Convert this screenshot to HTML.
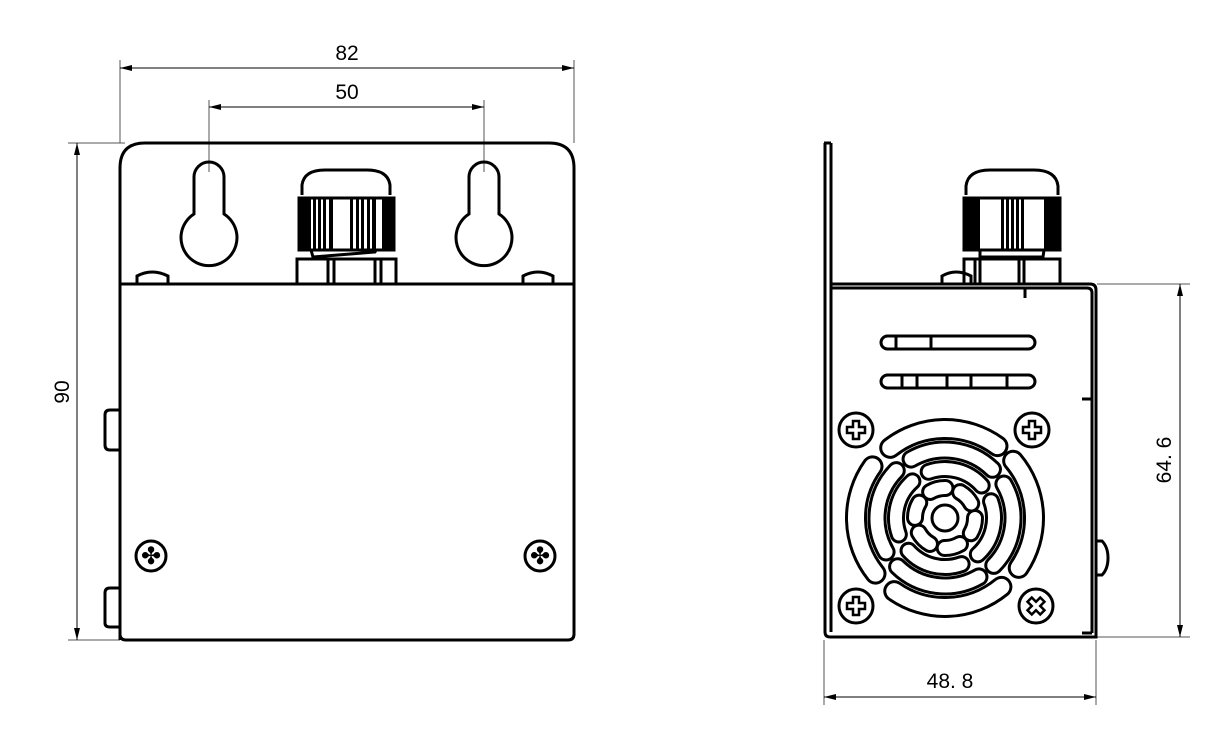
<!DOCTYPE html>
<html><head><meta charset="utf-8"><style>
html,body{margin:0;padding:0;background:#fff;}
svg{display:block;}
text{font-family:"Liberation Sans",sans-serif;font-size:21px;fill:#000;}
</style></head><body>
<svg width="1208" height="737" viewBox="0 0 1208 737" xmlns="http://www.w3.org/2000/svg">
<defs>
<marker id="ar" viewBox="0 0 12 6" refX="12" refY="3" markerWidth="12" markerHeight="6" orient="auto-start-reverse" markerUnits="userSpaceOnUse"><path d="M0,0 L12,3 L0,6 z" fill="#000"/></marker>
</defs>
<g stroke="#555" stroke-width="1" fill="none">
<line x1="120" y1="60" x2="120" y2="143"/><line x1="574" y1="60" x2="574" y2="143"/>
<line x1="209" y1="100" x2="209" y2="172"/><line x1="484" y1="100" x2="484" y2="172"/>
<line x1="68" y1="143" x2="125" y2="143"/><line x1="68" y1="640" x2="120" y2="640"/>
</g>
<g stroke="#000" stroke-width="1" fill="none">
<line x1="120" y1="68" x2="574" y2="68" marker-start="url(#ar)" marker-end="url(#ar)"/>
<line x1="209" y1="107" x2="484" y2="107" marker-start="url(#ar)" marker-end="url(#ar)"/>
<line x1="77" y1="143" x2="77" y2="640" marker-start="url(#ar)" marker-end="url(#ar)"/>
</g>
<text x="347" y="60" text-anchor="middle">82</text>
<text x="347" y="99" text-anchor="middle">50</text>
<text transform="translate(69,392) rotate(-90)" text-anchor="middle">90</text>

<g stroke="#000" stroke-width="3" fill="none">
<path d="M120,640 L120,168 Q120,143 145,143 L549,143 Q574,143 574,168 L574,634 Q574,640 568,640 L126,640 Q120,640 120,634"/>
<line x1="120" y1="284" x2="574" y2="284"/>
<path d="M120,410 L110,410 Q105,410 105,415 L105,445 Q105,450 110,450 L120,450"/>
<path d="M120,588 L110,588 Q105,588 105,593 L105,623 Q105,627 110,627 L120,627"/>
<path d="M194,214 L194,177 A15,15 0 0 1 224,177 L224,214 A28,28 0 1 1 194,214 Z"/>
<path d="M469,214 L469,177 A15,15 0 0 1 499,177 L499,214 A28,28 0 1 1 469,214 Z"/>
<path d="M137,284 L137,276 Q152,268 168,276 L168,284"/>
<path d="M523,284 L523,276 Q538,268 553,276 L553,284"/>
<path d="M302,195 L302,185 Q304,170 325,170 L367,170 Q388,170 390,185 L390,195"/>
<rect x="299" y="198" width="95" height="52"/>
<rect x="297" y="259" width="99" height="25"/>
<line x1="328" y1="259" x2="328" y2="284"/><line x1="334" y1="259" x2="334" y2="284"/>
<line x1="375" y1="259" x2="375" y2="284"/><line x1="381" y1="259" x2="381" y2="284"/>
<path d="M311,250 L313,257 L375,252 L376,250"/>
</g>
<g fill="#000">
<rect x="299" y="198" width="12" height="52"/><rect x="382" y="198" width="12" height="52"/>
<rect x="313" y="198" width="3" height="52"/><rect x="318" y="198" width="3" height="52"/><rect x="323" y="198" width="3" height="52"/><rect x="329" y="198" width="4" height="52"/>
<rect x="350" y="198" width="3" height="52"/><rect x="356" y="198" width="3" height="52"/><rect x="361" y="198" width="3" height="52"/><rect x="367" y="198" width="3" height="52"/><rect x="372" y="198" width="4" height="52"/>
</g>
<g stroke="#000" stroke-width="3" fill="none">
<circle cx="151" cy="556" r="15"/><circle cx="540" cy="556" r="15"/>
</g>
<g fill="#000"><text x="151" y="564" text-anchor="middle" style="font-size:24px">✤</text><text x="540" y="564" text-anchor="middle" style="font-size:24px">✤</text></g>

<g stroke="#555" stroke-width="1" fill="none">
<line x1="1097" y1="284" x2="1190" y2="284"/><line x1="1097" y1="637" x2="1190" y2="637"/>
<line x1="824" y1="640" x2="824" y2="705"/><line x1="1096" y1="640" x2="1096" y2="705"/>
</g>
<g stroke="#000" stroke-width="1" fill="none">
<line x1="1180" y1="284" x2="1180" y2="637" marker-start="url(#ar)" marker-end="url(#ar)"/>
<line x1="824" y1="697" x2="1096" y2="697" marker-start="url(#ar)" marker-end="url(#ar)"/>
</g>
<text x="950" y="688" text-anchor="middle">48. 8</text>
<text transform="translate(1171,460) rotate(-90)" text-anchor="middle">64. 6</text>

<g stroke="#000" stroke-width="3" fill="none">
<path d="M825,143 L825,632 Q825,637 830,637 L1096,637 L1096,290 Q1096,284 1090,284 L831,284"/>
<path d="M831,143 L831,632"/>
<path d="M831,288 L1087,288 Q1092,288 1092,293 L1092,633"/>
<line x1="824" y1="143" x2="831" y2="143"/>
<line x1="1025" y1="288" x2="1025" y2="298"/>
<line x1="1082" y1="399" x2="1092" y2="399"/>
<line x1="1082" y1="633" x2="1092" y2="633"/>
<path d="M1096,541 L1102,541 Q1108,547 1108,558 Q1108,569 1102,575 L1096,575"/>
<path d="M942,284 L942,276 Q956,268 971,276 L971,284"/>
<path d="M966,195 L966,186 Q968,170 990,170 L1034,170 Q1056,170 1058,186 L1058,195"/>
<rect x="964" y="198" width="96" height="52"/>
<rect x="964" y="259" width="96" height="25"/>
<line x1="975" y1="259" x2="975" y2="284"/><line x1="980" y1="259" x2="980" y2="284"/>
<line x1="1019" y1="259" x2="1019" y2="284"/><line x1="1024" y1="259" x2="1024" y2="284"/>
<path d="M980,250 L980,257 L1043,257 L1044,250"/>
<rect x="881" y="336" width="154" height="13" rx="6.5"/>
<line x1="896" y1="336" x2="896" y2="349"/><line x1="931" y1="336" x2="931" y2="349"/>
<rect x="881" y="375" width="154" height="13" rx="6.5"/>
<line x1="902" y1="375" x2="902" y2="388"/><line x1="917" y1="375" x2="917" y2="388"/><line x1="947" y1="375" x2="947" y2="388"/><line x1="971" y1="375" x2="971" y2="388"/><line x1="1007" y1="375" x2="1007" y2="388"/>
</g>
<g fill="#000">
<rect x="964" y="198" width="16" height="52"/><rect x="1044" y="198" width="16" height="52"/>
<rect x="1001" y="198" width="3" height="52"/><rect x="1006" y="198" width="3" height="52"/><rect x="1011" y="198" width="3" height="52"/><rect x="1016" y="198" width="3" height="52"/><rect x="1021" y="198" width="3" height="52"/>
</g>
<g fill="none" stroke-linecap="round">
<g transform="rotate(-40 945 518)">
<circle cx="945" cy="518" r="89" stroke="#000" stroke-width="22" stroke-dasharray="115 25.8"/>
<circle cx="945" cy="518" r="89" stroke="#fff" stroke-width="16" stroke-dasharray="115 25.8"/>
</g>
<g transform="rotate(-30 945 518)">
<circle cx="945" cy="518" r="68" stroke="#000" stroke-width="19" stroke-dasharray="88 18.8"/>
<circle cx="945" cy="518" r="68" stroke="#fff" stroke-width="13" stroke-dasharray="88 18.8"/>
</g>
<g transform="rotate(-20 945 518)">
<circle cx="945" cy="518" r="49" stroke="#000" stroke-width="18" stroke-dasharray="58 19"/>
<circle cx="945" cy="518" r="49" stroke="#fff" stroke-width="12" stroke-dasharray="58 19"/>
</g>
<g>
<circle cx="945" cy="518" r="30" stroke="#000" stroke-width="18" stroke-dasharray="16 15.4"/>
<circle cx="945" cy="518" r="30" stroke="#fff" stroke-width="12" stroke-dasharray="16 15.4"/>
</g>
<circle cx="945" cy="518" r="13" stroke="#000" stroke-width="3"/>
</g>
<g stroke="#000" stroke-width="3" fill="#fff">
<circle cx="856" cy="430" r="17"/><circle cx="1032" cy="430" r="17"/>
<circle cx="856" cy="606" r="17"/><circle cx="1036" cy="606" r="17"/>
</g>
<g stroke="#000" stroke-width="2.5" fill="none">
<path d="M853,421 h6 v6 h6 v6 h-6 v6 h-6 v-6 h-6 v-6 h6 z"/>
<path d="M1029,421 h6 v6 h6 v6 h-6 v6 h-6 v-6 h-6 v-6 h6 z"/>
<path d="M853,597 h6 v6 h6 v6 h-6 v6 h-6 v-6 h-6 v-6 h6 z"/>
<path d="M1033,597 h6 v6 h6 v6 h-6 v6 h-6 v-6 h-6 v-6 h6 z" transform="rotate(45 1036 606)"/>
</g>
</svg>
</body></html>
